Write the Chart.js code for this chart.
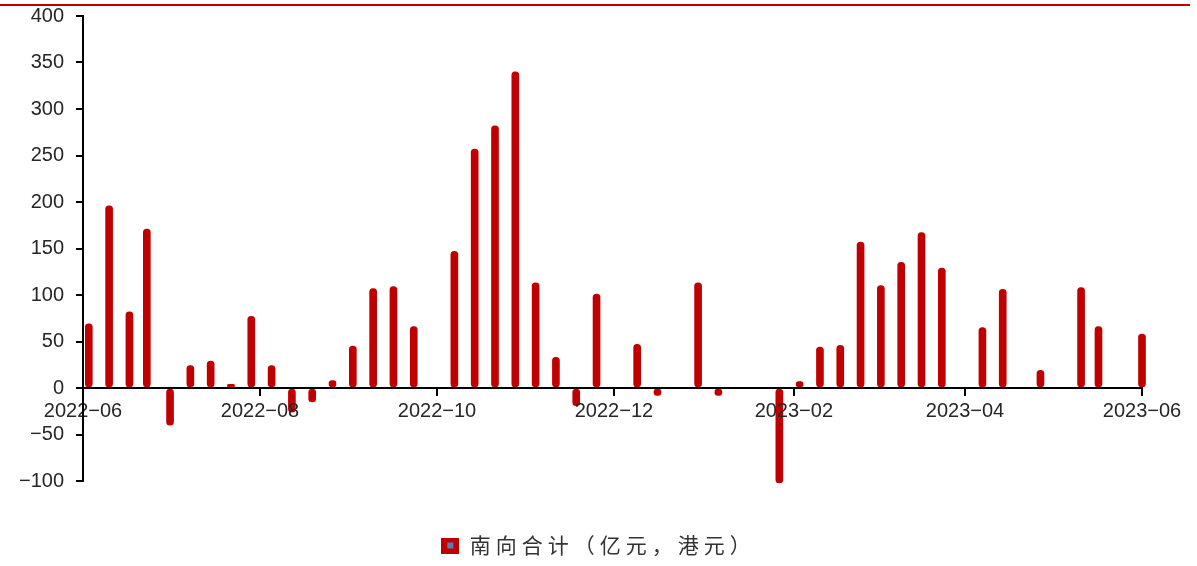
<!DOCTYPE html>
<html>
<head>
<meta charset="utf-8">
<script src="https://cdn.jsdelivr.net/npm/chart.js@4.4.1/dist/chart.umd.min.js"></script>
<style>
  html, body { margin: 0; padding: 0; background: #fff; }
  #wrap { width: 1197px; height: 566px; }
</style>
</head>
<body>
<div id="wrap"><canvas id="chart" width="1197" height="566"></canvas></div>
<script>
// weekly southbound net buying (100m HKD)
const weekDates = [
  '2022-06-03', '2022-06-10', '2022-06-17', '2022-06-23', '2022-07-01', '2022-07-08',
  '2022-07-15', '2022-07-22', '2022-07-29', '2022-08-05', '2022-08-12', '2022-08-19',
  '2022-08-26', '2022-09-02', '2022-09-09', '2022-09-16', '2022-09-23', '2022-10-07',
  '2022-10-14', '2022-10-21', '2022-10-28', '2022-11-04', '2022-11-11', '2022-11-18',
  '2022-11-25', '2022-12-09', '2022-12-16', '2022-12-30', '2023-01-06', '2023-01-27',
  '2023-02-03', '2023-02-10', '2023-02-17', '2023-02-24', '2023-03-03', '2023-03-10',
  '2023-03-17', '2023-03-24', '2023-04-07', '2023-04-14', '2023-04-27', '2023-05-11',
  '2023-05-17', '2023-06-01'
];
const southboundNet = [
  69, 196, 82, 171, -40, 24,
  29, 4, 77, 24, -26, -15,
  8, 45, 107, 109, 66, 147,
  257, 282, 340, 113, 33, -19,
  101, 47, -8, 113, -8, -102,
  7, 44, 46, 157, 110, 135,
  167, 129, 65, 106, 19, 108,
  66, 58
];
const monthTicks = ['2022-06-01', '2022-08-01', '2022-10-01', '2022-12-01', '2023-02-01', '2023-04-01', '2023-06-01'];
const monthLabels = ['2022−06', '2022−08', '2022−10', '2022−12', '2023−02', '2023−04', '2023−06'];
const seriesName = '南向合计（亿元，港元）';

const startDate = '2022-06-01';
const dayOf = s => Math.round((Date.parse(s) - Date.parse(startDate)) / 86400000);
const tickDays = monthTicks.map(dayOf);

const RED = '#C00000';
const TEXT = '#262626';
const latin = { family: '"Liberation Sans", Arial, sans-serif', size: 20 };

// legend marker: red square with the small blue centre
const marker = document.createElement('canvas');
marker.width = 18; marker.height = 16;
(function () {
  const g = marker.getContext('2d');
  g.fillStyle = RED;
  g.fillRect(0, 0, 18, 16);
  g.fillStyle = '#5b7fb5';
  g.fillRect(6, 5, 6, 6);
})();

// red rule across the top, plus wider letter spacing for the legend text only
const decor = {
  id: 'decor',
  beforeLayout(chart) { chart.ctx.letterSpacing = '5px'; },
  afterLayout(chart) { chart.ctx.letterSpacing = '0px'; },
  beforeDraw(chart) { chart.ctx.letterSpacing = '5px'; },
  beforeDatasetsDraw(chart) { chart.ctx.letterSpacing = '0px'; },
  afterDraw(chart) {
    const ctx = chart.ctx;
    ctx.save();
    ctx.strokeStyle = RED;
    ctx.lineWidth = 2;
    ctx.beginPath();
    ctx.moveTo(0, 5);
    ctx.lineTo(1190, 5);
    ctx.stroke();
    ctx.restore();
  }
};

const noPad = s => { s.paddingTop = 0; s.paddingBottom = 0; s.paddingLeft = 0; s.paddingRight = 0; };

new Chart(document.getElementById('chart').getContext('2d'), {
  type: 'bar',
  data: {
    datasets: [{
      label: seriesName,
      data: weekDates.map((d, i) => ({ x: dayOf(d), y: southboundNet[i] })),
      xAxisID: 'x',
      yAxisID: 'y',
      backgroundColor: RED,
      barThickness: 7,
      borderRadius: 3.5,
      borderSkipped: false,
      clip: false
    }]
  },
  options: {
    responsive: false,
    animation: false,
    layout: { padding: { top: 16, right: 0, bottom: 0, left: 0 } },
    plugins: {
      tooltip: { enabled: false },
      legend: {
        position: 'bottom',
        labels: {
          usePointStyle: true,
          pointStyle: marker,
          boxWidth: 18,
          boxHeight: 16,
          padding: 10,
          color: '#333',
          font: { family: '"Noto Sans CJK SC", sans-serif', size: 21 }
        }
      }
    },
    scales: {
      x: {
        type: 'linear',
        min: 0,
        max: 365,
        offset: false,
        position: { y: 0 },
        grid: { z: 1, offset: false, drawOnChartArea: false, drawTicks: true, tickLength: 7, color: '#000', lineWidth: 2 },
        border: { z: 1, display: true, color: '#000', width: 2 },
        ticks: {
          z: 1,
          autoSkip: false,
          maxRotation: 0,
          padding: 4,
          color: TEXT,
          font: latin,
          callback: v => monthLabels[tickDays.indexOf(v)] || ''
        },
        afterBuildTicks: s => { s.ticks = tickDays.map(v => ({ value: v })); },
        afterFit: noPad
      },
      y: {
        min: -100,
        max: 400,
        grid: { z: 1, drawOnChartArea: false, drawTicks: true, tickLength: 7, color: '#000', lineWidth: 2 },
        border: { z: 1, display: true, color: '#000', width: 2 },
        ticks: {
          z: 1,
          stepSize: 50,
          padding: 12,
          color: TEXT,
          font: latin,
          callback: v => (v < 0 ? '−' + Math.abs(v) : String(v))
        },
        afterFit: s => { s.width = 83; noPad(s); }
      },
      // empty boxes that hold the plot edges where the picture has them
      padBottom: {
        type: 'linear',
        axis: 'x',
        position: 'bottom',
        offset: false,
        grid: { display: false },
        border: { display: false },
        ticks: { display: false },
        afterFit: s => { s.height = 44; noPad(s); }
      },
      padRight: {
        type: 'linear',
        axis: 'y',
        position: 'right',
        grid: { display: false },
        border: { display: false },
        ticks: { display: false },
        afterFit: s => { s.width = 55; noPad(s); }
      }
    }
  },
  plugins: [decor]
});
</script>
</body>
</html>
